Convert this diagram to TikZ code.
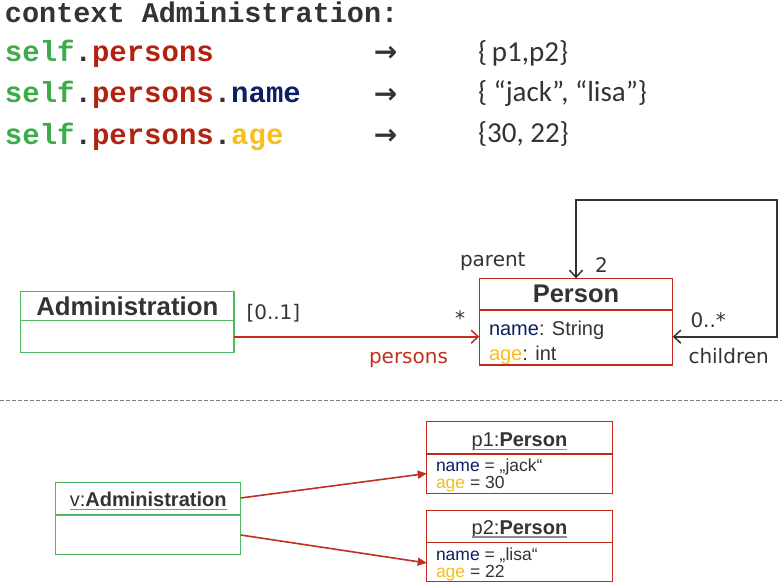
\documentclass[tikz,border=0pt]{standalone}
\usepackage{fontspec}
\setmainfont{Liberation Sans}
\newfontfamily\codefont{Liberation Mono}
\newfontfamily\setfont{Carlito}
\newfontfamily\labfont{DejaVu Sans}
\usetikzlibrary{arrows.meta}
\definecolor{cgreen}{RGB}{60,172,74}
\definecolor{cred}{RGB}{178,34,16}
\definecolor{cnavy}{RGB}{12,30,100}
\definecolor{cyellow}{RGB}{247,190,30}
\definecolor{tgray}{RGB}{51,51,51}
\definecolor{boxgreen}{RGB}{78,184,98}
\definecolor{boxred}{RGB}{192,42,30}
\definecolor{linered}{RGB}{192,48,32}
\definecolor{ulgray}{RGB}{140,140,140}
\begin{document}
\begin{tikzpicture}[x=1pt,y=-1pt,
  every node/.style={inner sep=0pt,outer sep=0pt},
  code/.style={anchor=base west,font=\codefont\bfseries\fontsize{29}{29}\selectfont,text=tgray},
  arrowsym/.style={anchor=base,font=\labfont\bfseries\fontsize{28}{28}\selectfont,text=tgray},
  setstyle/.style={anchor=base west,font=\setfont\fontsize{29}{29}\selectfont,text=tgray},
  lab/.style={anchor=base west,font=\labfont\fontsize{20}{20}\selectfont,text=tgray},
  gbox/.style={draw=boxgreen,line width=1.3pt,rectangle},
  rbox/.style={draw=boxred,line width=1.3pt,rectangle},
  ttl/.style={anchor=base,font=\bfseries\fontsize{25.8}{26}\selectfont,text=tgray},
  attr/.style={anchor=base west,font=\fontsize{20}{20}\selectfont,text=tgray},
  otitle/.style={anchor=base,font=\fontsize{20}{20}\selectfont,text=tgray},
  oattr/.style={anchor=base west,font=\fontsize{17.5}{17.5}\selectfont,text=tgray},
  ul/.style={draw=ulgray,line width=1.3pt},
  assoc/.style={draw=linered,line width=1.8pt,-{Straight Barb[length=7pt,width=13pt,line width=1.5pt]}},
  selfassoc/.style={draw=tgray,line width=1.8pt,{Straight Barb[length=7pt,width=13pt,line width=1.5pt]}-{Straight Barb[length=7pt,width=13pt,line width=1.5pt]}},
  link/.style={draw=linered,line width=1.6pt,-{Triangle[length=9pt,width=8pt]}},
  sepline/.style={draw=gray,line width=1pt,dash pattern=on 4pt off 2pt}
]
\useasboundingbox (0,0) rectangle (782,583);

% ---- OCL code ----
\node[code,font=\codefont\bfseries\fontsize{28.5}{29}\selectfont] (c1) at (5,22.5) {context Administration:};
\node[code] (c2) at (5,61.5) {\textcolor{cgreen}{self}.\textcolor{cred}{persons}};
\node[code] (c3) at (5,102.5) {\textcolor{cgreen}{self}.\textcolor{cred}{persons}.\textcolor{cnavy}{name}};
\node[code] (c4) at (5,144.5) {\textcolor{cgreen}{self}.\textcolor{cred}{persons}.\textcolor{cyellow}{age}};
\node[arrowsym] (a2) at (385.5,61.5) {→};
\node[arrowsym] (a3) at (385.5,103.5) {→};
\node[arrowsym] (a4) at (385.5,144.5) {→};
\node[setstyle] (s2) at (478,62) {\{\,p1,p2\}};
\node[setstyle] (s3) at (478,102) {\{ “jack”, “lisa”\}};
\node[setstyle] (s4) at (478,143) {\{30, 22\}};

% ---- class diagram ----
\node[gbox,minimum width=213.3pt,minimum height=61pt] (adm) at (127.35,322.2) {};
\draw[draw=boxgreen,line width=1.3pt] (adm.west |- 0,320.7) coordinate (admdl) -- (adm.east |- 0,320.7) coordinate (admdr);
\node[ttl] (admt) at (127.35,315.7) {Administration};

\node[rbox,minimum width=193.4pt,minimum height=86.7pt] (person) at (576,321.65) {};
\draw[draw=boxred,line width=1.3pt] (person.west |- 0,310) coordinate (pdl) -- (person.east |- 0,310) coordinate (pdr);
\node[ttl,font=\bfseries\fontsize{25.5}{26}\selectfont] (pt) at (576,302.7) {Person};
\node[attr] (pname) at (489,335.7) {\textcolor{cnavy}{name}: String};
\node[attr] (page) at (489,360) {\textcolor{cyellow}{age}: int};

\coordinate (aY) at (0,336.7);
\draw[assoc] (adm.east |- aY) -- (person.west |- aY);
\coordinate (lc) at (777.3,200);
\draw[selfassoc] (person.east |- aY) -| (lc) -| (person.north);

\node[lab] (mult1) at (246.5,319.3) {[0..1]};
\node[lab] (mult2) at (455,325) {*};
\node[lab,text=linered] (rolep) at (369,363) {persons};
\node[lab] (rparent) at (460,266) {parent};
\node[lab] (m2) at (595,272.7) {2};
\node[lab] (m0s) at (690.5,327) {0..*};
\node[lab] (rchild) at (688.5,363.3) {children};

% ---- separator ----
\coordinate (sepl) at (0,400.7);
\coordinate (sepr) at (782,400.7);
\draw[sepline] (sepl) -- (sepr);

% ---- object diagram ----
\node[gbox,minimum width=185pt,minimum height=71.6pt] (vadm) at (148.2,518.5) {};
\draw[draw=boxgreen,line width=1.3pt] (vadm.west |- 0,515) coordinate (vdl) -- (vadm.east |- 0,515) coordinate (vdr);
\node[otitle] (vt) at (148.2,506.7) {v:\textbf{Administration}};
\draw[ul] ([yshift=-2.5pt]vt.base west) -- ([yshift=-2.5pt]vt.base east);

\node[rbox,minimum width=185.6pt,minimum height=71.6pt] (p1) at (519.5,457.5) {};
\draw[draw=boxred,line width=1.3pt] (p1.west |- 0,454) coordinate (p1dl) -- (p1.east |- 0,454) coordinate (p1dr);
\node[otitle] (p1t) at (519.5,446.7) {p1:\textbf{Person}};
\draw[ul] ([yshift=-2.5pt]p1t.base west) -- ([yshift=-2.5pt]p1t.base east);
\node[oattr] (p1n) at (436,471) {\textcolor{cnavy}{name} = „jack“};
\node[oattr] (p1a) at (436,488.3) {\textcolor{cyellow}{age} = 30};

\node[rbox,minimum width=185.6pt,minimum height=71pt] (p2) at (519.5,546.2) {};
\draw[draw=boxred,line width=1.3pt] (p2.west |- 0,542.7) coordinate (p2dl) -- (p2.east |- 0,542.7) coordinate (p2dr);
\node[otitle] (p2t) at (519.5,534.5) {p2:\textbf{Person}};
\draw[ul] ([yshift=-2.5pt]p2t.base west) -- ([yshift=-2.5pt]p2t.base east);
\node[oattr] (p2n) at (436,560) {\textcolor{cnavy}{name} = „lisa“};
\node[oattr] (p2a) at (436,577.3) {\textcolor{cyellow}{age} = 22};

\draw[link] ([yshift=20.5pt]vadm.east) -- ([yshift=-16pt]p1.west);
\draw[link] ([yshift=-16.5pt]vadm.east) -- ([yshift=-16.8pt]p2.west);
\end{tikzpicture}
\end{document}
